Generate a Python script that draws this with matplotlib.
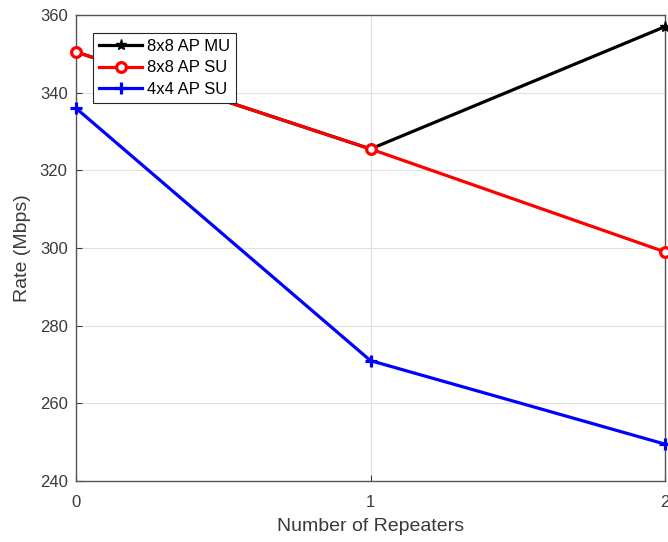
import matplotlib.pyplot as plt
import numpy as np

plt.rcParams['font.family'] = ['Liberation Sans', 'DejaVu Sans']

repeaters = [0, 1, 2]
rate_8x8_mu = [350.5, 325.5, 357.0]
rate_8x8_su = [350.5, 325.5, 299.0]
rate_4x4_su = [336.0, 271.0, 249.5]

fig = plt.figure(figsize=(6.68, 5.42), dpi=100)
ax = fig.add_axes([0.1138, 0.1125, 0.8817, 0.8598])

ax.plot(repeaters, rate_8x8_mu, color='black', lw=2.3, marker='*', markersize=8,
        label='8x8 AP MU', clip_on=False, zorder=3)
ax.plot(repeaters, rate_8x8_su, color='red', lw=2.3, marker='o', markersize=7,
        markerfacecolor='white', markeredgewidth=2.3, label='8x8 AP SU', clip_on=False, zorder=4)
ax.plot(repeaters, rate_4x4_su, color='blue', lw=2.3, marker='+', markersize=9,
        markeredgewidth=2.3, label='4x4 AP SU', clip_on=False, zorder=5)

ax.set_xlim(0, 2)
ax.set_ylim(240, 360)
ax.set_xticks(repeaters)
ax.set_yticks(np.arange(240, 361, 20))
ax.tick_params(direction='in', length=4, labelsize=12, colors='#3a3a3a', pad=6)
ax.tick_params(axis='x', pad=10)
ax.grid(True, color='#e0e0e0', lw=0.8)
ax.set_axisbelow(True)
for s in ax.spines.values():
    s.set_color('#555555')
    s.set_linewidth(1.0)

ax.set_xlabel('Number of Repeaters', fontsize=14, color='#3a3a3a', labelpad=6)
ax.set_ylabel('Rate (Mbps)', fontsize=14, color='#3a3a3a', labelpad=6)

leg = ax.legend(loc='upper left', bbox_to_anchor=(0.029, 0.961), borderaxespad=0,
                fancybox=False, edgecolor='#262626', fontsize=12, handlelength=2.6,
                framealpha=1, borderpad=0.35, labelspacing=0.38, handletextpad=0.3)
leg.get_frame().set_linewidth(0.8)

fig.savefig('out.png', dpi=100, facecolor='white')
